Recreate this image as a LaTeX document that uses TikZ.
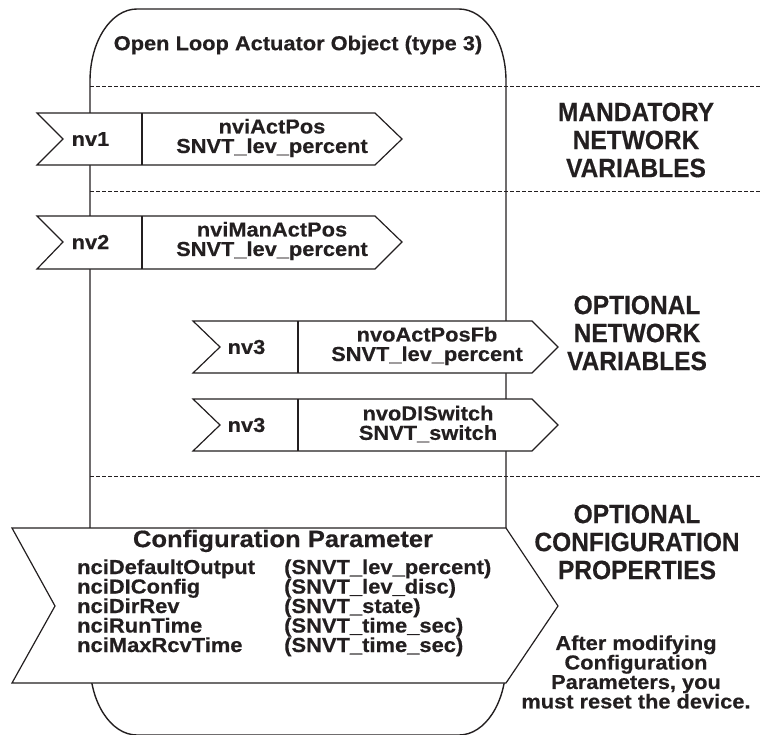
\documentclass[tikz,border=0pt]{standalone}
\usepackage{fontspec}
\setmainfont{Liberation Sans}[BoldFeatures={FakeBold=0.4}]
\newfontfamily\widefam{Liberation Sans}[FakeStretch=1.08,BoldFeatures={FakeBold=0.4}]
\newfontfamily\tallfam{Liberation Sans}[FakeStretch=0.925,BoldFeatures={FakeBold=0.4}]
\definecolor{ink}{RGB}{35,31,32}
\begin{document}
\begin{tikzpicture}[x=1pt,y=-1pt,
  objline/.style={draw=ink,line width=1.4pt},
  sepline/.style={draw=ink,line width=0.9pt,dash pattern=on 4pt off 2pt},
  sigbox/.style={draw=ink,fill=white,line width=1.2pt,line join=miter},
  lbl/.style={text=ink,font=\widefam\bfseries\fontsize{20.2}{19.5}\selectfont,align=center,inner sep=0pt},
  head/.style={text=ink,font=\tallfam\bfseries\fontsize{26.5}{28}\selectfont,align=center,inner sep=0pt},
  note/.style={text=ink,font=\widefam\bfseries\fontsize{20.2}{19.5}\selectfont,align=center,inner sep=0pt},
  cfg/.style={text=ink,font=\widefam\bfseries\fontsize{20.3}{19.5}\selectfont,inner sep=0pt,anchor=base west},
]
\useasboundingbox (0,0) rectangle (760,734);
\clip (0,0) rectangle (760,734);
% object outline
\draw[objline] (137,9) -- (459,9)
  .. controls (485,9) and (506,41.3) .. (506,81)
  -- (506,663)
  .. controls (506,702.7) and (485,735) .. (459,735)
  -- (137,735)
  .. controls (111,735) and (90,702.7) .. (90,663)
  -- (90,81)
  .. controls (90,41.3) and (111,9) .. (137,9) -- cycle;
% separators
\draw[sepline] (90,86) -- (760,86);
\draw[sepline] (90,191) -- (760,191);
\draw[sepline] (90,476) -- (760,476);
% nv1
\draw[sigbox] (37,113) -- (375,113) -- (402,139) -- (375,165) -- (37,165) -- (63,139) -- cycle;
\draw[sigbox] (142,113) -- (142,165);
% nv2
\draw[sigbox] (37,216) -- (375,216) -- (402,242) -- (375,269) -- (37,269) -- (63,242) -- cycle;
\draw[sigbox] (142,216) -- (142,269);
% nv3 a
\draw[sigbox] (193,321) -- (532,321) -- (558,347) -- (532,373) -- (193,373) -- (220,347) -- cycle;
\draw[sigbox] (298,321) -- (298,373);
% nv3 b
\draw[sigbox] (193,399) -- (532,399) -- (558,425) -- (532,451) -- (193,451) -- (220,425) -- cycle;
\draw[sigbox] (298,399) -- (298,451);
% configuration box
\draw[sigbox] (12,528) -- (506,528) -- (558,606) -- (506,683) -- (12,683) -- (55,606) -- cycle;

% texts
\node[lbl] (title) at (298,45) {Open Loop Actuator Object (type 3)};
\node[lbl] (nv1) at (90.5,139) {nv1};
\node[lbl] (nv1t) at (272,138) {nviActPos\\SNVT\_lev\_percent};
\node[lbl] (nv2) at (90.5,242) {nv2};
\node[lbl] (nv2t) at (272,241) {nviManActPos\\SNVT\_lev\_percent};
\node[lbl] (nv3a) at (246.5,347) {nv3};
\node[lbl] (nv3at) at (427,346) {nvoActPosFb\\SNVT\_lev\_percent};
\node[lbl] (nv3b) at (246.5,425) {nv3};
\node[lbl] (nv3bt) at (428,424) {nvoDISwitch\\SNVT\_switch};

\node[head] (mand) at (636,140) {MANDATORY\\NETWORK\\VARIABLES};
\node[head] (optnv) at (637,333) {OPTIONAL\\NETWORK\\VARIABLES};
\node[head] (optcp) at (637,542) {OPTIONAL\\CONFIGURATION\\PROPERTIES};
\node[note] (reset) at (636,672) {After modifying\\Configuration\\Parameters, you\\must reset the device.};

\node[text=ink,font=\widefam\bfseries\fontsize{23.7}{28}\selectfont,inner sep=0pt] (cfgtitle) at (283,541) {Configuration Parameter};
\node[cfg] (c1) at (77,574) {nciDefaultOutput};
\node[cfg] (c2) at (77,593.5) {nciDIConfig};
\node[cfg] (c3) at (77,613) {nciDirRev};
\node[cfg] (c4) at (77,632.5) {nciRunTime};
\node[cfg] (c5) at (77,652) {nciMaxRcvTime};
\node[cfg] (t1) at (284,574) {(SNVT\_lev\_percent)};
\node[cfg] (t2) at (284,593.5) {(SNVT\_lev\_disc)};
\node[cfg] (t3) at (284,613) {(SNVT\_state)};
\node[cfg] (t4) at (284,632.5) {(SNVT\_time\_sec)};
\node[cfg] (t5) at (284,652) {(SNVT\_time\_sec)};
\end{tikzpicture}
\end{document}
